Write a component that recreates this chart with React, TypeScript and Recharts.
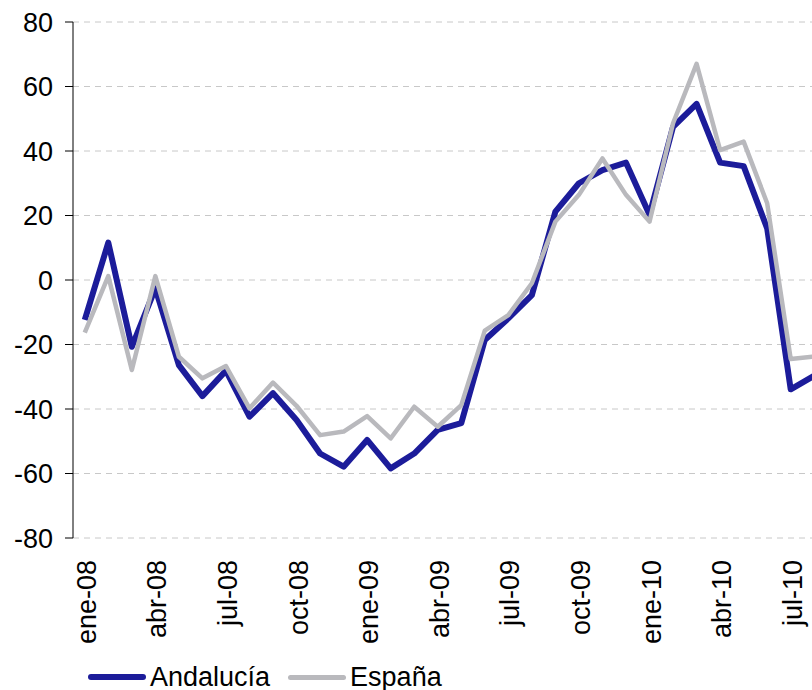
import { LineChart, Line, XAxis, YAxis, CartesianGrid } from 'recharts'

const months = [
  'ene-08', 'feb-08', 'mar-08', 'abr-08', 'may-08', 'jun-08', 'jul-08', 'ago-08', 'sep-08', 'oct-08', 'nov-08', 'dic-08',
  'ene-09', 'feb-09', 'mar-09', 'abr-09', 'may-09', 'jun-09', 'jul-09', 'ago-09', 'sep-09', 'oct-09', 'nov-09', 'dic-09',
  'ene-10', 'feb-10', 'mar-10', 'abr-10', 'may-10', 'jun-10', 'jul-10', 'ago-10',
]

const andalucia = [
  -12.4, 11.6, -20.7, -2.6, -26.4, -36, -28.1, -42.4, -35.1, -43.4, -53.8, -57.9,
  -49.6, -58.4, -53.8, -46.5, -44.4, -18.6, -11.9, -4.7, 21.2, 30, 34.1, 36.4,
  20.2, 47.5, 54.6, 36.4, 35.3, 16, -33.9, -29.7,
]

const espana = [
  -16.3, 1.2, -27.9, 1.2, -23.8, -30.5, -26.7, -39.8, -31.8, -39, -48.1, -47,
  -42.2, -49.1, -39.3, -45.5, -38.8, -15.7, -10.9, -1.0, 18.1, 26.4, 37.7, 26.4,
  18.1, 48.6, 67, 40.3, 42.9, 23.8, -24.5, -23.7,
]

const yTicks = [-80, -60, -40, -20, 0, 20, 40, 60, 80]

const BLUE = '#1c1c9a'
const GREY = '#b9b9bd'
const FONT = '"Liberation Sans", Arial, sans-serif'

const data = months.map((m, i) => ({ mes: m, andalucia: andalucia[i], espana: espana[i] }))

const MonthTick = ({ x, y, payload }: any) => (
  <text
    transform={`translate(${x + 11},${y + 22}) rotate(-90)`}
    textAnchor="end"
    fontSize={27}
    fontFamily={FONT}
    fill="#000"
  >
    {payload.value}
  </text>
)

const LegendItem = ({ color, thick, label }: { color: string; thick: number; label: string }) => (
  <div style={{ display: 'flex', alignItems: 'center' }}>
    <div style={{ width: 58, height: thick, background: color, borderRadius: thick / 2, marginRight: 4 }} />
    <span>{label}</span>
  </div>
)

export default function App() {
  return (
    <div style={{ position: 'fixed', left: 0, top: 0, width: 812, height: 690, overflow: 'hidden', background: '#fff' }}>
      <LineChart width={826} height={690} data={data} margin={{ top: 22, right: 0, left: 0, bottom: 0 }}>
        <CartesianGrid vertical={false} stroke="#c8c8c8" strokeDasharray="6 5" />
        <XAxis
          dataKey="mes"
          interval={2}
          height={152}
          axisLine={false}
          tickLine={false}
          tickSize={0}
          tickMargin={0}
          padding={{ left: 11.76, right: 11.76 }}
          tick={<MonthTick />}
        />
        <YAxis
          width={73}
          domain={[-80, 80]}
          ticks={yTicks}
          interval={0}
          axisLine={{ stroke: '#000' }}
          tickLine={{ stroke: '#000' }}
          tickSize={8}
          tickMargin={12}
          tick={{ fontSize: 27, fill: '#000', fontFamily: FONT }}
        />
        <Line
          type="linear"
          dataKey="andalucia"
          name="Andalucía"
          stroke={BLUE}
          strokeWidth={6}
          strokeLinejoin="round"
          dot={false}
          isAnimationActive={false}
        />
        <Line
          type="linear"
          dataKey="espana"
          name="España"
          stroke={GREY}
          strokeWidth={4.5}
          strokeLinejoin="round"
          dot={false}
          isAnimationActive={false}
        />
      </LineChart>
      <div
        style={{
          position: 'absolute', left: 88, top: 664, display: 'flex', gap: 18,
          fontFamily: FONT, fontSize: 27, color: '#000', lineHeight: '26px',
        }}
      >
        <LegendItem color={BLUE} thick={6} label="Andalucía" />
        <LegendItem color={GREY} thick={5} label="España" />
      </div>
    </div>
  )
}
